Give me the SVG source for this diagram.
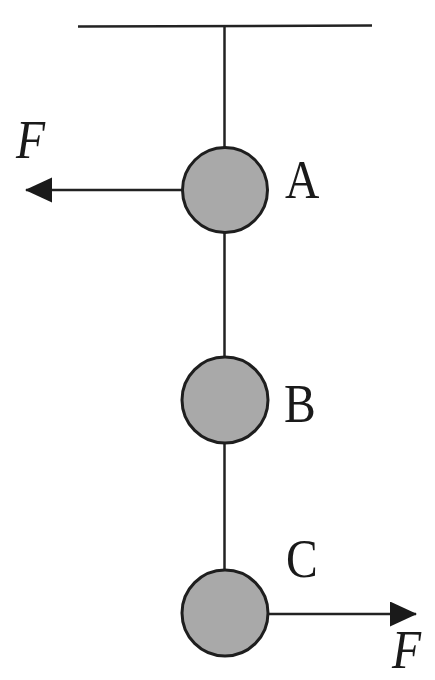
<svg xmlns="http://www.w3.org/2000/svg" width="435" height="680" viewBox="0 0 435 680">
<style>
.ln{stroke:#222;stroke-width:2.5;fill:none}
.ball{fill:#a9a9a9;stroke:#1e1e1e;stroke-width:3}
.lbl{font-family:"Liberation Serif",serif;font-size:56px;fill:#1a1a1a}
.f{font-style:italic}
</style>
<defs>
<marker id="ah" markerWidth="28" markerHeight="26" refX="26" refY="12.5" orient="auto" markerUnits="userSpaceOnUse">
<path d="M0,0 L27,12.5 L0,25 Z" fill="#1a1a1a"/>
</marker>
</defs>
<g id="ceiling">
<line class="ln" x1="78" y1="26.5" x2="372" y2="25.5"/>
</g>
<g id="connectors">
<line class="ln" x1="224.5" y1="27" x2="224.5" y2="575"/>
<line class="ln" x1="182" y1="190" x2="26" y2="190" marker-end="url(#ah)"/>
<line class="ln" x1="268" y1="614" x2="416" y2="614" marker-end="url(#ah)"/>
</g>
<g id="A">
<circle class="ball" cx="225" cy="190" r="42.5"/>
<text class="lbl" transform="translate(285,198) scale(0.85,1)">A</text>
</g>
<g id="B">
<circle class="ball" cx="225" cy="400" r="43"/>
<text class="lbl" transform="translate(284,422) scale(0.85,1)">B</text>
</g>
<g id="C">
<circle class="ball" cx="225" cy="613" r="43"/>
<text class="lbl" transform="translate(286,577) scale(0.85,1)">C</text>
</g>
<g id="F-left">
<text class="lbl f" transform="translate(16,158) scale(0.85,1)">F</text>
</g>
<g id="F-right">
<text class="lbl f" transform="translate(392,668) scale(0.85,1)">F</text>
</g>
</svg>
